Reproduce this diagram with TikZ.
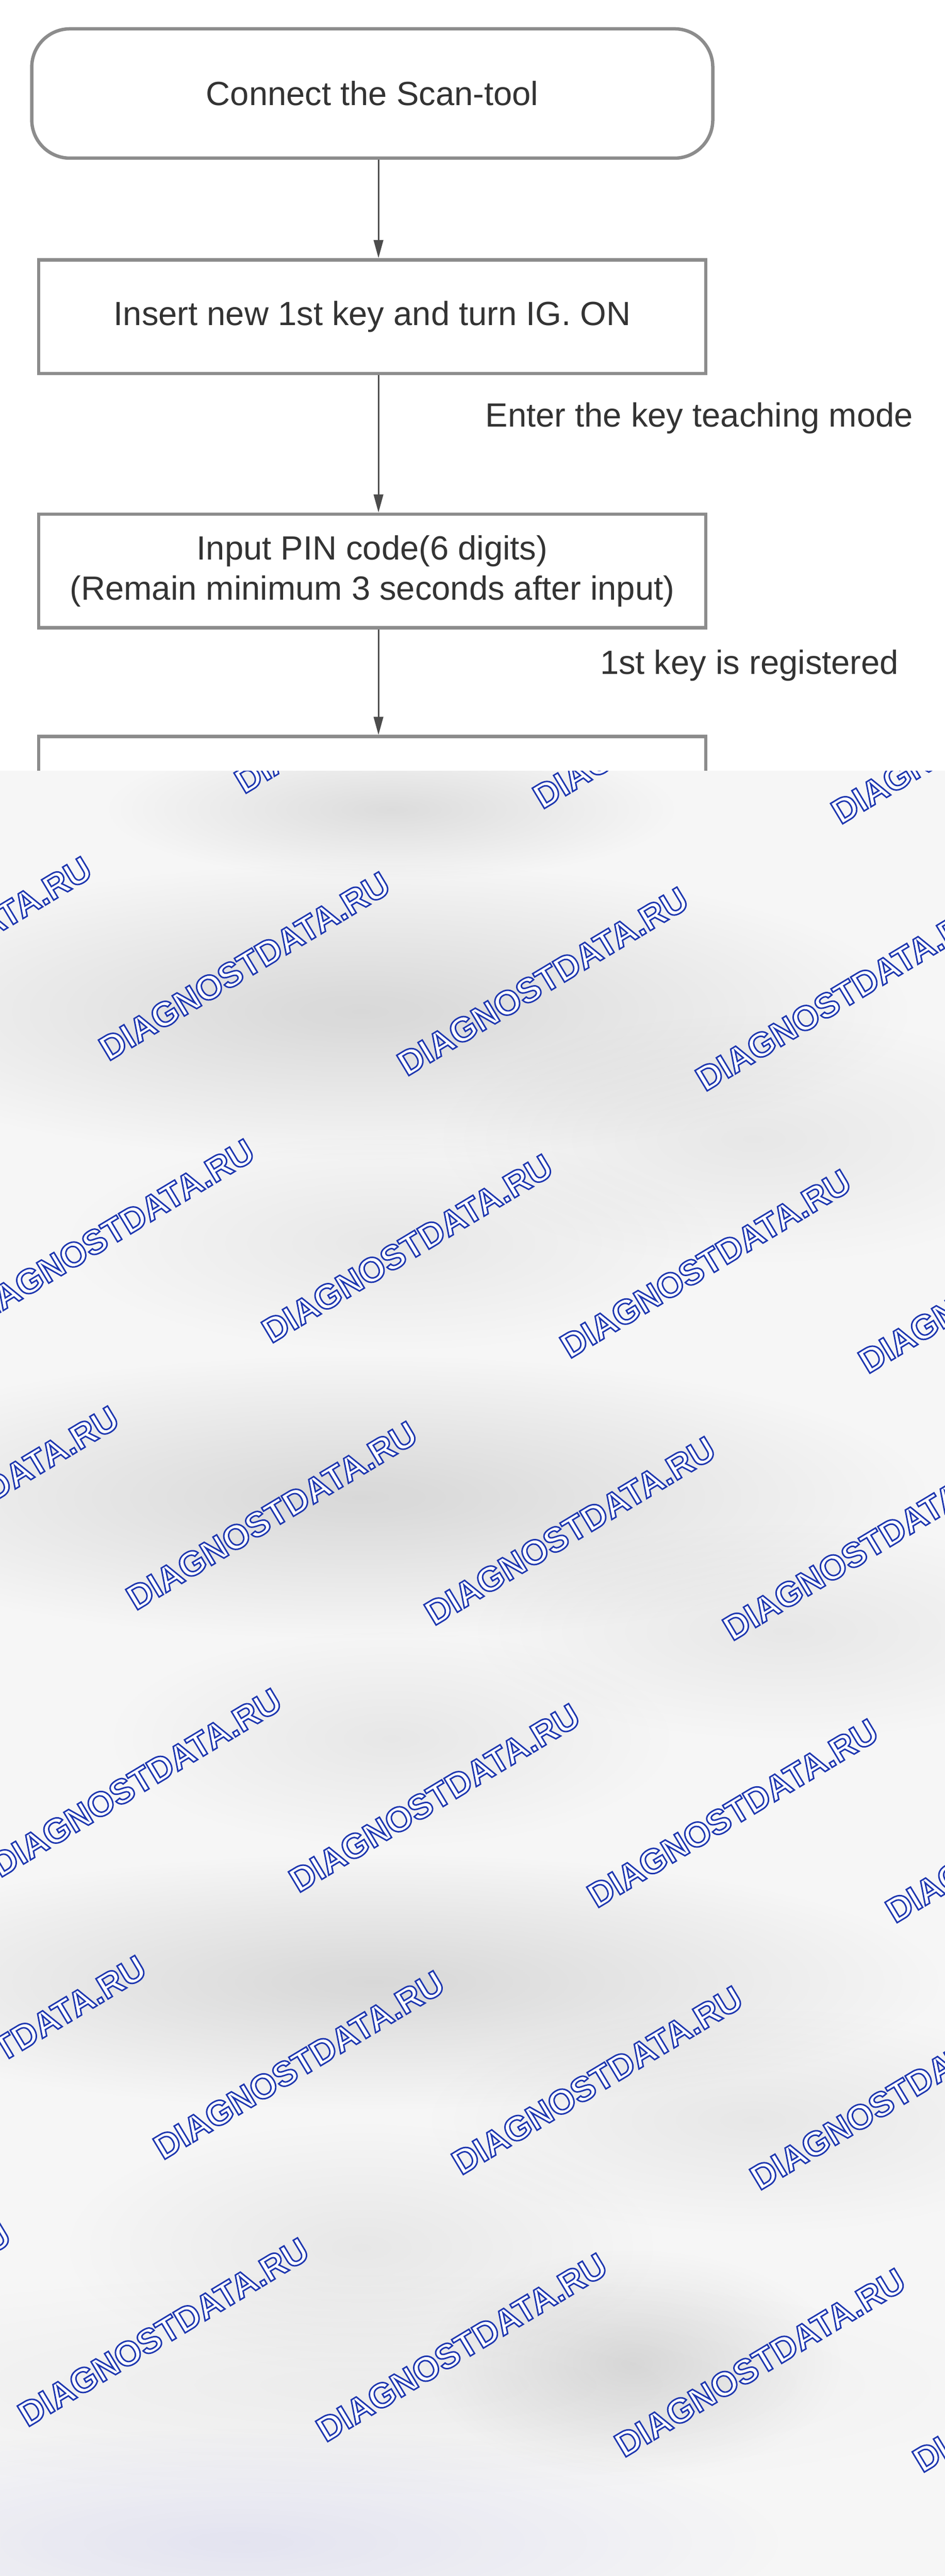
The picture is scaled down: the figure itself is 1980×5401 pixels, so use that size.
\documentclass[tikz,border=0pt]{standalone}
\usepackage{fontspec}
\setmainfont{Liberation Sans}
\usetikzlibrary{positioning,arrows.meta,fadings}

\definecolor{blurbg}{RGB}{246,246,246}
\tikzfading[name=blobfade, inner color=transparent!0, outer color=transparent!100]
\newcommand{\wmtext}{\special{pdf:literal direct 2 Tr 0.9 w 0.118 0.216 0.690 RG}DIAGNOSTDATA.RU\special{pdf:literal direct 0 Tr}}

\begin{document}
\begin{tikzpicture}[x=0.01cm, y=-0.01cm,
		box/.style={draw=black!45, line width=2pt, minimum width=13.97cm, minimum height=2.38cm, align=center, text=black!80, font=\fontsize{20}{24}\selectfont},
		lbl/.style={anchor=west, text=black!80, font=\fontsize{20}{24}\selectfont},
		flow/.style={draw=black!70, line width=0.9pt, -{Triangle[length=0.38cm, width=0.2cm]}},
		blob/.style={fill=black, path fading=blobfade},
		wmark/.style={rotate=31, anchor=base west, inner sep=0pt, text=white, font=\bfseries\fontsize{20.5}{24}\selectfont}]

		\useasboundingbox (0,0) rectangle (1980,5401);
		\fill[white] (0,0) rectangle (1980,5401);

		\node[box, rounded corners=0.8cm, minimum width=14.26cm, minimum height=2.71cm] (scan) at (780,196) {Connect the Scan-tool};
		\node[box, below=2.06cm of scan] (ignon) {Insert new 1st key and turn IG. ON};
		\node[box, below=2.88cm of ignon] (pin) {Input PIN code(6 digits)\\(Remain minimum 3 seconds after input)};
		\node[box, below=2.21cm of pin] (next) {};

		\node[lbl] (teach) at (1005,877) {Enter the key teaching mode};
		\node[lbl] (reg) at (1245,1395) {1st key is registered};

		\draw[flow] ([xshift=0.13cm]scan.south) -- ([xshift=0.13cm]ignon.north);
		\draw[flow] ([xshift=0.13cm]ignon.south) -- ([xshift=0.13cm]pin.north);
		\draw[flow] ([xshift=0.13cm]pin.south) -- ([xshift=0.13cm]next.north);

		\fill[blurbg] (0,1616) rectangle (1980,5401);
		\begin{scope}
			\clip (0,1616) rectangle (1980,5401);
			\fill[blob, fill opacity=0.10] (820,1697) ellipse (600 and 150);
			\fill[blob, fill opacity=0.12] (757,2121) ellipse (1160 and 314);
			\fill[blob, fill opacity=0.06] (1578,2388) ellipse (670 and 266);
			\fill[blob, fill opacity=0.06] (820,2606) ellipse (694 and 230);
			\fill[blob, fill opacity=0.12] (757,3139) ellipse (1200 and 300);
			\fill[blob, fill opacity=0.06] (1641,3420) ellipse (660 and 230);
			\fill[blob, fill opacity=0.06] (820,3645) ellipse (600 and 230);
			\fill[blob, fill opacity=0.12] (783,4155) ellipse (1200 and 270);
			\fill[blob, fill opacity=0.06] (1578,4445) ellipse (694 and 240);
			\fill[blob, fill opacity=0.06] (757,4712) ellipse (630 and 266);
			\fill[blob, fill opacity=0.10] (1326,4955) ellipse (440 and 240);
			\fill[blob, fill opacity=0.04] (757,5000) ellipse (1400 and 240);
			\fill[blob, fill=blue!50!gray, fill opacity=0.10] (505,5330) ellipse (1140 and 240);

			\foreach \j in {-1,...,5}{
				\foreach \i in {-2,...,5}{
					\node[wmark] (wm\i\j) at ({227+625*\i-284*\j}, {2226+32*\i+560*\j}) {\wmtext};
				}
			}
		\end{scope}

\end{tikzpicture}
\end{document}
